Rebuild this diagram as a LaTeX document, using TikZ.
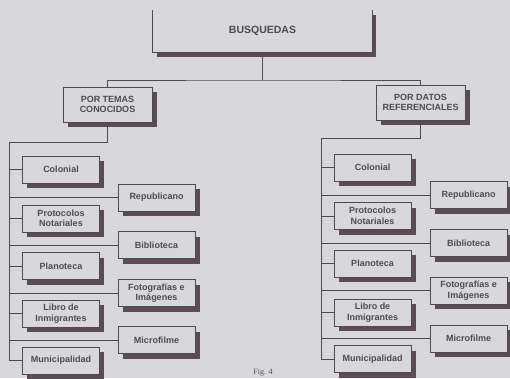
\documentclass[tikz,border=0pt]{standalone}
\usepackage{fontspec}
\setmainfont{Liberation Sans}
\newfontfamily\capfont{Liberation Serif}
\usetikzlibrary{shadows}
\definecolor{bg}{HTML}{D8D8DA}
\definecolor{ink}{HTML}{4E4B50}
\definecolor{shd}{HTML}{5A4B57}
\begin{document}
\begin{tikzpicture}[x=1pt,y=-1pt,
  box/.style={draw=ink, line width=0.7pt, fill=bg, text=ink,
    font=\fontsize{9}{10.5}\selectfont\bfseries, align=center,
    minimum width=77pt, minimum height=27pt, inner sep=1pt,
    drop shadow={shadow xshift=4.5pt, shadow yshift=-5pt, fill=shd, opacity=1}},
  bigbox/.style={box, minimum width=89pt, minimum height=35pt},
  wire/.style={draw=ink, line width=0.8pt}]
\clip (0,0) rectangle (510,378);
\fill[bg] (0,0) rectangle (510,378);
% top
\node[fill=bg, minimum width=219pt, minimum height=42pt, text=ink,
  font=\fontsize{10.5}{12}\selectfont\bfseries,
  drop shadow={shadow xshift=4pt, shadow yshift=-5pt, fill=shd, opacity=1}]
  (B) at (262.5,31) {BUSQUEDAS};
\draw[wire, line width=0.7pt] (B.north west) -- (B.south west) -- (B.south east) -- (B.north east);
\node[bigbox] (PT) at (107.5,104.5) {POR TEMAS\\CONOCIDOS};
\node[bigbox] (PD) at (420.5,102.5) {POR DATOS\\REFERENCIALES};
\coordinate (hb) at (262.5,80);
\draw[wire] (B.south) ++(0,5) -- (hb);
\draw[wire] (PT.north) |- (hb) -| (PD.north);
% left group
\node[box] (LColonial) at (61,169.5) {Colonial};
\node[box] (LProt) at (61,218.5) {Protocolos\\Notariales};
\node[box] (LPlan) at (61,266) {Planoteca};
\node[box] (LLib) at (61,313.5) {Libro de\\Inmigrantes};
\node[box] (LMun) at (61,360.5) {Municipalidad};
\node[box] (LRep) at (156.5,197.5) {Republicano};
\node[box] (LBib) at (156.5,245) {Biblioteca};
\node[box] (LFot) at (156.5,293) {Fotografías e\\Imágenes};
\node[box] (LMic) at (156.5,340) {Microfilme};
\coordinate (LS) at (9,142);
\draw[wire] (PT.south) |- (LS) -- (LS |- LMun.west);
\foreach \n in {LColonial,LProt,LPlan,LLib,LMun,LRep,LBib,LFot,LMic}
  \draw[wire] (LS |- \n.west) -- (\n.west);
% right group
\node[box] (RColonial) at (372.5,167.5) {Colonial};
\node[box] (RProt) at (372.5,216) {Protocolos\\Notariales};
\node[box] (RPlan) at (372.5,263.5) {Planoteca};
\node[box] (RLib) at (372.5,312.5) {Libro de\\Inmigrantes};
\node[box] (RMun) at (372.5,359) {Municipalidad};
\node[box] (RRep) at (468.5,195) {Republicano};
\node[box] (RBib) at (468.5,243) {Biblioteca};
\node[box] (RFot) at (468.5,290.5) {Fotografías e\\Imágenes};
\node[box] (RMic) at (468.5,338.5) {Microfilme};
\coordinate (RS) at (321,138);
\draw[wire] (PD.south) |- (RS) -- (RS |- RMun.west);
\foreach \n in {RColonial,RProt,RPlan,RLib,RMun,RRep,RBib,RFot,RMic}
  \draw[wire] (RS |- \n.west) -- (\n.west);
% caption
\node[text=ink, font=\capfont\fontsize{8}{9}\selectfont, anchor=south, inner sep=1pt] (fig) at (263,377) {Fig. 4};
\end{tikzpicture}
\end{document}
